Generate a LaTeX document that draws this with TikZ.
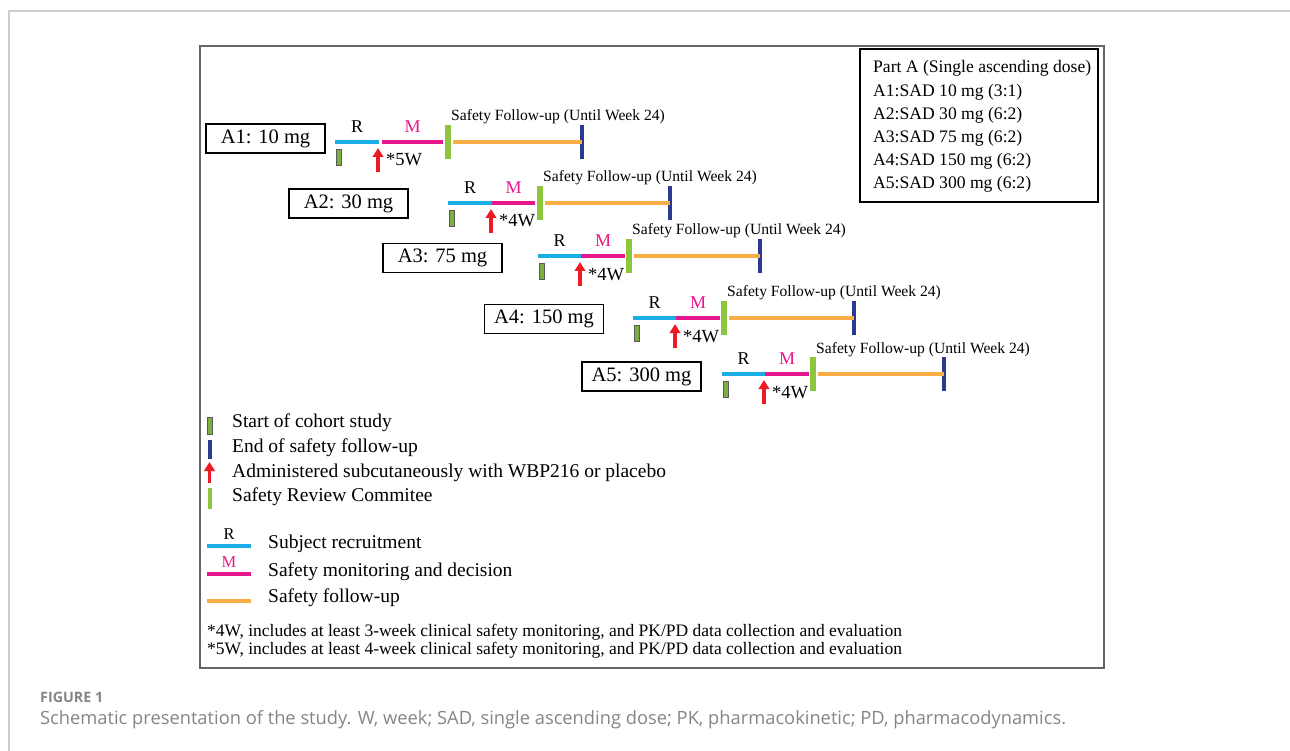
\documentclass[tikz,border=0pt]{standalone}
\usepackage{fontspec}
\setmainfont{Liberation Serif}
\newfontfamily\capfont{Open Sans}
\usetikzlibrary{arrows.meta}
\definecolor{cR}{HTML}{1BADE6}
\definecolor{cM}{HTML}{E6178C}
\definecolor{cO}{HTML}{F9AE45}
\definecolor{cG}{HTML}{8CC63E}
\definecolor{cB}{HTML}{2B3990}
\definecolor{cRed}{HTML}{ED1C24}
\definecolor{cStart}{HTML}{7DAF3F}
\definecolor{cCap}{HTML}{858585}
\tikzset{
  seg/.style={line width=3.4pt},
  labelbox/.style={draw=black, line width=1.1pt, minimum width=119pt, minimum height=29pt, inner sep=0pt, font=\fontsize{20.5}{24}\selectfont},
  srcbar/.style={fill=cG, minimum width=6pt, minimum height=34pt, inner sep=0pt, draw=none},
  endbar/.style={fill=cB, minimum width=4pt, minimum height=34pt, inner sep=0pt, draw=none},
  startbar/.style={fill=cStart, draw=black!65, line width=0.8pt, minimum width=5pt, minimum height=16pt, inner sep=0pt},
  redarrow/.style={cRed, line width=3.4pt, -{Triangle[width=10.5pt,length=9pt]}},
  seglab/.style={anchor=base, font=\fontsize{18}{20}\selectfont, inner sep=0pt},
  weeklab/.style={anchor=base west, font=\fontsize{18.5}{20}\selectfont, inner sep=0pt},
  sfulab/.style={anchor=base west, font=\fontsize{15.6}{18}\selectfont, inner sep=0pt},
  legtxt/.style={anchor=west, font=\fontsize{19.5}{22}\selectfont, inner sep=0pt},
  boxtxt/.style={anchor=west, font=\fontsize{17.6}{20}\selectfont, inner sep=0pt},
  foot/.style={anchor=west, font=\fontsize{17.5}{20}\selectfont, inner sep=0pt},
}
\begin{document}
\begin{tikzpicture}[x=1pt,y=-1pt]
\useasboundingbox (0,0) rectangle (1290,751);
% card edge
\draw[black!20, line width=1.3pt] (9,751) -- (9,11) -- (1290,11);
% inner frame
\node[draw=black!60, line width=1.6pt, minimum width=904pt, minimum height=622pt, inner sep=0pt] (frame) at (652,357) {};
% rows
\foreach \n/\xa/\xr/\xm/\xe/\xs/\xb/\yy/\bx/\by/\wk/\lab in {
  A1/335/379/382/443/448/582/142/265.5/138.5/*5W/A1: 10 mg,
  A2/448/492/492/535/540/670/203/348.5/203.5/*4W/A2: 30 mg,
  A3/538/581/581/625/629/760/256/442.5/258/*4W/A3: 75 mg,
  A4/633/676/676/720/724/854/318/544/319/*4W/A4: 150 mg,
  A5/722/765/765/809/813/944/374/641.5/376.5/*4W/A5: 300 mg}{
  \node[labelbox] (\n-box) at (\bx,\by) {\lab};
  \coordinate (\n-r0) at (\xa,\yy);
  \coordinate (\n-r1) at (\xr,\yy);
  \coordinate (\n-m0) at (\xm,\yy);
  \coordinate (\n-m1) at (\xe,\yy);
  \node[srcbar] (\n-src) at (\xs,\yy) {};
  \node[endbar] (\n-end) at (\xb,\yy) {};
  \draw[seg,cR] (\n-r0) -- (\n-r1);
  \draw[seg,cM] (\n-m0) -- (\n-m1);
  \draw[seg,cO] ([xshift=1.5pt]\n-src.east) -- (\n-end.center);
  \node[startbar] (\n-start) at (\xa+4,\yy+15.5) {};
  \coordinate (\n-at) at (\xr-1,\yy+30);
  \coordinate (\n-ah) at (\xr-1,\yy+6);
  \draw[redarrow] (\n-at) -- (\n-ah);
  \node[weeklab] (\n-wk) at (\xr+7,\yy+24) {\wk};
  \node[seglab] (\n-R) at ({(\xa+\xr)/2},\yy-9.5) {R};
  \node[seglab, text=cM] (\n-M) at ({(\xm+\xe)/2},\yy-9.5) {M};
  \node[sfulab] (\n-sfu) at (\xs+3,\yy-21) {Safety Follow-up (Until Week 24)};
}
% legend box top right
\node[draw=black, line width=1.1pt, minimum width=238pt, minimum height=153pt, inner sep=0pt] (legbox) at (979,125.5) {};
\node[boxtxt] (lb1) at (873,68) {Part A (Single ascending dose)};
\node[boxtxt] (lb2) at (873,92) {A1:SAD 10 mg (3:1)};
\node[boxtxt] (lb3) at (873,115) {A2:SAD 30 mg (6:2)};
\node[boxtxt] (lb4) at (873,138) {A3:SAD 75 mg (6:2)};
\node[boxtxt] (lb5) at (873,161) {A4:SAD 150 mg (6:2)};
\node[boxtxt] (lb6) at (873,184) {A5:SAD 300 mg (6:2)};
% legend bottom
\node[startbar, minimum width=5pt, minimum height=17pt] (ls) at (209.5,425.5) {};
\node[legtxt] (lst) at (232,423) {Start of cohort study};
\node[endbar, minimum height=19pt] (le) at (209.5,449.5) {};
\node[legtxt] (let) at (232,448) {End of safety follow-up};
\coordinate (lat) at (209.5,483);
\coordinate (lah) at (209.5,462);
\draw[redarrow] (lat) -- (lah);
\node[legtxt] (lart) at (232,473) {Administered subcutaneously with WBP216 or placebo};
\node[srcbar, minimum width=4pt, minimum height=21pt] (lsrc) at (209.5,498.5) {};
\node[legtxt] (lsrct) at (232,497) {Safety Review Commitee};
\coordinate (lr0) at (207,546); \coordinate (lr1) at (251,546);
\draw[seg,cR] (lr0) -- (lr1);
\node[seglab, font=\fontsize{16.5}{18}\selectfont] (lrl) at (229,539) {R};
\node[legtxt] (lrt) at (268,544) {Subject recruitment};
\coordinate (lm0) at (207,574); \coordinate (lm1) at (251,574);
\draw[seg,cM] (lm0) -- (lm1);
\node[seglab, text=cM, font=\fontsize{16.5}{18}\selectfont] (lml) at (229,567) {M};
\node[legtxt] (lmt) at (268,572) {Safety monitoring and decision};
\coordinate (lo0) at (207,601); \coordinate (lo1) at (251,601);
\draw[seg,cO] (lo0) -- (lo1);
\node[legtxt] (lot) at (268,598) {Safety follow-up};
% footnotes
\node[foot] (f1) at (207,632) {*4W, includes at least 3-week clinical safety monitoring, and PK/PD data collection and evaluation};
\node[foot] (f2) at (207,650) {*5W, includes at least 4-week clinical safety monitoring, and PK/PD data collection and evaluation};
% caption
\node[anchor=west, inner sep=0pt, text=cCap, font=\capfont\fontsize{14.3}{16}\selectfont\bfseries] (figlab) at (40,697) {FIGURE 1};
\node[anchor=west, inner sep=0pt, text=cCap, font=\capfont\fontsize{18.3}{21}\selectfont] (cap) at (40,720) {Schematic presentation of the study. W, week; SAD, single ascending dose; PK, pharmacokinetic; PD, pharmacodynamics.};
\end{tikzpicture}
\end{document}
